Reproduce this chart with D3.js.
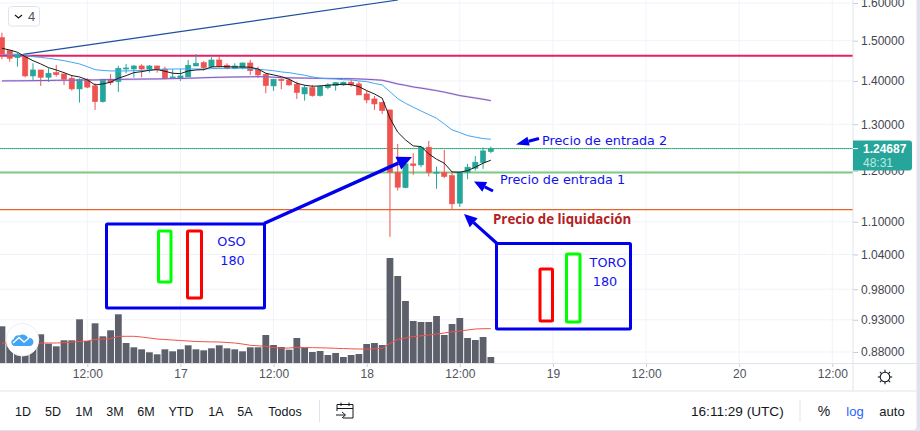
<!DOCTYPE html>
<meta charset="utf-8">
<head>
  <style>
    body { margin: 0; overflow: hidden; background: #fff; }
    svg { display: block; font-family: "Liberation Sans", sans-serif; }
    .note { font-family: "DejaVu Sans", sans-serif; fill: #1212ee; }
    .domain { display: none; }
  </style>
</head>
<body>
  <script src="https://d3js.org/d3.v7.min.js"></script>
  <script>
    // hourly candles, index 11 = 12:00 of the 16th
    const opens = [1.5078,1.4745,1.4570,1.4595,1.4121,1.4266,1.4089,1.4201,1.4169,1.4065,1.3810,1.4041,1.3881,1.3513,1.4041,1.3984,
      1.4290,1.4290,1.4364,1.4290,1.4364,1.4290,1.4072,1.4065,1.4097,1.4364,1.4446,1.4347,1.4512,1.4382,1.4298,1.4323,
      1.4438,1.4283,1.4162,1.3881,1.4041,1.4024,1.3922,1.3692,1.3841,1.3653,1.3841,1.3888,1.3905,1.3969,1.3929,1.3692,
      1.3575,1.3490,1.3322,1.1974,1.1662,1.2146,1.2125,1.2498,1.1954,1.1966,1.1903,1.1355,1.1974,1.2056,1.2173,1.2404];
    const highs = [1.5207,1.4763,1.4695,1.4638,1.4431,1.4266,1.4308,1.4389,1.4169,1.4145,1.4065,1.4065,1.3945,1.4048,1.4169,1.4372,
      1.4414,1.4389,1.4406,1.4389,1.4372,1.4347,1.4290,1.4290,1.4512,1.4663,1.4487,1.4580,1.4612,1.4431,1.4431,1.4446,
      1.4512,1.4347,1.4186,1.4041,1.4065,1.4065,1.3984,1.3905,1.3905,1.3905,1.3945,1.3969,1.3984,1.4041,1.3984,1.3770,
      1.3646,1.3513,1.3322,1.2569,1.2194,1.2370,1.2511,1.2634,1.2090,1.2440,1.1974,1.1986,1.2146,1.2313,1.2492,1.2513];
    const lows = [1.4530,1.4470,1.4347,1.4089,1.4024,1.3881,1.3976,1.4104,1.3905,1.3770,1.3490,1.3829,1.3322,1.3490,1.3905,1.3739,
      1.4186,1.4080,1.4089,1.4201,1.4201,1.4041,1.4065,1.4000,1.4089,1.4364,1.4249,1.4308,1.4323,1.4283,1.4283,1.4283,
      1.4145,1.4065,1.3708,1.3763,1.3802,1.3888,1.3575,1.3536,1.3629,1.3629,1.3802,1.3770,1.3881,1.3860,1.3669,1.3476,
      1.3322,1.3232,1.0719,1.1602,1.1650,1.1919,1.2077,1.1888,1.1637,1.1856,1.1239,1.1283,1.1831,1.2007,1.2042,1.2370];
    const closes = [1.4655,1.4555,1.4655,1.4121,1.4266,1.4089,1.4186,1.4152,1.4041,1.3810,1.4041,1.3853,1.3513,1.4041,1.3960,1.4308,
      1.4315,1.4364,1.4290,1.4364,1.4290,1.4065,1.4097,1.4121,1.4382,1.4431,1.4323,1.4512,1.4364,1.4298,1.4364,1.4438,
      1.4249,1.4145,1.3888,1.4041,1.4007,1.3905,1.3723,1.3841,1.3653,1.3865,1.3905,1.3960,1.3969,1.3905,1.3669,1.3552,
      1.3460,1.3306,1.1974,1.1670,1.2146,1.2111,1.2498,1.1974,1.1974,1.1888,1.1342,1.1974,1.2077,1.2181,1.2419,1.24687];
    const volumes = [36.7,23,21,23,21,28.7,19.3,16.7,22.7,22.7,43.7,22,39.7,26.7,32.7,48.7,
      20,15.7,13.7,10.7,8.7,13.7,11.7,13.7,17.7,13.7,12.7,14.7,17.7,14.7,13.7,11.7,
      15.7,15.7,28,18,16,13.3,25,15,11,12,8,10,6,8,9,19,
      20,18,105,87,62,42,41,41,47,28,39,45,25,23,26,6];
    const volumeMa = [20,20,20,20,20,20,20,20,20.3,21,21.5,22,23.5,24,24.3,26.7,
      26.7,26.7,26,25,24,23.5,23,22.5,22,21.5,21.3,21.1,21,20.5,20,19,
      17.7,17.2,16.7,15.5,14.7,15,15.7,15.5,15.3,15.2,15,14.7,14.4,14.2,14,14,
      14.2,14.7,19.7,23.7,25,26.3,27.2,28,29,30,31.3,32,33,34,34.3,34.3];
    const maFast = [1.4806,1.4763,1.4705,1.4595,1.4495,1.4414,1.4323,1.4266,1.4201,1.4128,1.4097,1.4024,1.3905,1.3929,1.3969,1.4065,
      1.4128,1.4201,1.4225,1.4259,1.4274,1.4235,1.4186,1.4176,1.4242,1.4266,1.4274,1.4340,1.4347,1.4347,1.4340,1.4340,
      1.4332,1.4290,1.4186,1.4145,1.4104,1.4041,1.3945,1.3898,1.3874,1.3881,1.3898,1.3912,1.3922,1.3912,1.3865,1.3770,
      1.3692,1.3592,1.3134,1.2824,1.2655,1.2526,1.2511,1.2356,1.2244,1.2160,1.1980,1.1974,1.2007,1.2077,1.2160,1.2223];
    const maMid = [1.4655,1.4655,1.4655,1.4638,1.4595,1.4575,1.4555,1.4525,1.4495,1.4455,1.4414,1.4347,1.4274,1.4254,1.4242,1.4242,
      1.4242,1.4249,1.4254,1.4266,1.4278,1.4283,1.4290,1.4290,1.4290,1.4290,1.4290,1.4298,1.4303,1.4308,1.4308,1.4308,
      1.4303,1.4283,1.4266,1.4249,1.4218,1.4201,1.4169,1.4138,1.4097,1.4065,1.4055,1.4048,1.4031,1.4024,1.4000,1.3984,
      1.3941,1.3905,1.3746,1.3582,1.3476,1.3384,1.3299,1.3216,1.3134,1.3007,1.2874,1.2815,1.2749,1.2715,1.2684,1.2670];
    const maSlow = [1.4000,1.4002,1.4003,1.4005,1.4007,1.4010,1.4012,1.4015,1.4017,1.4019,1.4021,1.4022,1.4024,1.4028,1.4032,1.4036,
      1.4041,1.4043,1.4045,1.4047,1.4048,1.4052,1.4056,1.4060,1.4065,1.4071,1.4077,1.4083,1.4089,1.4092,1.4095,1.4098,
      1.4100,1.4104,1.4100,1.4090,1.4080,1.4076,1.4072,1.4068,1.4065,1.4063,1.4060,1.4058,1.4056,1.4055,1.4048,1.4040,
      1.4030,1.4017,1.3975,1.3929,1.3895,1.3857,1.3830,1.3800,1.3770,1.3735,1.3695,1.3653,1.3625,1.3597,1.3568,1.3536];

    const priceTicks = [1.6, 1.5, 1.4, 1.3, 1.2, 1.1, 1.04, 0.98, 0.93, 0.88];
    const hourTicks = [11, 23, 35, 47, 59, 71, 83, 95, 107];
    const hourLabels = ["12:00", "17", "12:00", "18", "12:00", "19", "12:00", "20", "12:00"];
    const levels = [
      { price: 1.4620, color: "#e91e63", w: 2 },
      { price: 1.1966, color: "#81c784", w: 2 },
      { price: 1.1230, color: "#e8622a", w: 1.3 }
    ];
    const lastPrice = 1.24687;
    const ranges = ["1D", "5D", "1M", "3M", "6M", "YTD", "1A", "5A", "Todos"];

    const width = 920, height = 431;
    const plotRight = 853, plotBottom = 363;

    const x = d3.scaleLinear().domain([11, 107]).range([87.3, 832.3]);
    const y = d3.scaleLog().domain([0.88, 1.6]).range([352, 3]);
    const yVol = d3.scaleLinear().domain([0, 105]).range([plotBottom, 258]);

    const svg = d3.select("body").append("svg").attr("width", width).attr("height", height);

    svg.append("rect").attr("width", width).attr("height", height).attr("fill", "#e0e3eb");
    svg.append("rect").attr("x", -8).attr("y", -8).attr("width", 924.5).attr("height", 438)
      .attr("rx", 4).attr("fill", "#fff");

    // grid
    const grid = svg.append("g").attr("stroke", "#f0f3fa").attr("stroke-width", 1);
    grid.selectAll("line.h").data(priceTicks).join("line").attr("class", "h")
      .attr("x1", 0).attr("x2", plotRight).attr("y1", d => y(d)).attr("y2", d => y(d));
    grid.selectAll("line.v").data(hourTicks).join("line").attr("class", "v")
      .attr("x1", d => x(d)).attr("x2", d => x(d)).attr("y1", 0).attr("y2", plotBottom);

    // volume
    const idx = d3.range(opens.length);
    svg.append("g").selectAll("rect").data(idx).join("rect")
      .attr("x", i => x(i) - 3.4).attr("width", 6.8)
      .attr("y", i => yVol(volumes[i]))
      .attr("height", i => plotBottom - yVol(volumes[i]))
      .attr("fill", "#5d606b");
    svg.append("path").datum(idx)
      .attr("d", d3.line().x(i => x(i)).y(i => yVol(volumeMa[i])))
      .attr("fill", "none").attr("stroke", "#f0534a").attr("stroke-width", 1);

    // levels, drawn under the candles
    svg.append("g").selectAll("line").data(levels).join("line")
      .attr("x1", 0).attr("x2", plotRight)
      .attr("y1", d => y(d.price)).attr("y2", d => y(d.price))
      .attr("stroke", d => d.color).attr("stroke-width", d => d.w);
    svg.append("line").attr("x1", 0).attr("x2", plotRight)
      .attr("y1", y(lastPrice)).attr("y2", y(lastPrice))
      .attr("stroke", "#66bb6a").attr("stroke-width", 1);
    svg.append("line").attr("x1", 0).attr("x2", plotRight)
      .attr("y1", y(lastPrice)).attr("y2", y(lastPrice))
      .attr("stroke", "#26a69a").attr("stroke-width", 1).attr("stroke-dasharray", "1 1");

    // trend line
    svg.append("line").attr("x1", 23).attr("y1", 54.3).attr("x2", 398).attr("y2", 0)
      .attr("stroke", "#1f4f9f").attr("stroke-width", 1.2);

    // candles
    const candle = svg.append("g").selectAll("g").data(idx).join("g")
      .attr("fill", i => closes[i] >= opens[i] ? "#26a69a" : "#ef5350")
      .attr("stroke", i => closes[i] >= opens[i] ? "#26a69a" : "#ef5350");
    candle.append("line")
      .attr("x1", i => x(i)).attr("x2", i => x(i))
      .attr("y1", i => y(highs[i])).attr("y2", i => y(lows[i]))
      .attr("stroke-width", 1);
    candle.append("rect")
      .attr("x", i => x(i) - 2.6).attr("width", 5.2)
      .attr("y", i => y(Math.max(opens[i], closes[i])))
      .attr("height", i => Math.max(0.6, Math.abs(y(opens[i]) - y(closes[i]))))
      .attr("stroke-width", 0.6);

    // moving averages
    const maLine = d3.line().x(i => x(i));
    [[maSlow, "#7e57c2", 1, true], [maMid, "#42a5f5", 1, false], [maFast, "#1b1b1b", 1, false]].forEach(([s, c, w, halo]) => {
      if (halo) {
        svg.append("path").datum(idx).attr("d", maLine.y(i => y(s[i])))
          .attr("fill", "none").attr("stroke", "#b39ddb").attr("stroke-width", 2).attr("opacity", 0.45);
      }
      svg.append("path").datum(idx).attr("d", maLine.y(i => y(s[i])))
        .attr("fill", "none").attr("stroke", c).attr("stroke-width", w);
    });

    // axes
    const yAxis = svg.append("g").attr("transform", `translate(${plotRight},0)`)
      .call(d3.axisRight(y).tickValues(priceTicks).tickFormat(d3.format(".5f")).tickSize(5).tickPadding(3));
    yAxis.selectAll("text").attr("font-size", 12).attr("fill", "#434651").attr("font-family", "Liberation Sans");
    yAxis.selectAll("line").attr("stroke", "#c8ccd6");
    const xAxis = svg.append("g").attr("transform", `translate(0,${plotBottom})`)
      .call(d3.axisBottom(x).tickValues(hourTicks).tickFormat((d, i) => hourLabels[i]).tickSize(4).tickPadding(2));
    xAxis.selectAll("text").attr("font-size", 12).attr("fill", "#50535e").attr("font-family", "Liberation Sans");
    xAxis.selectAll("line").attr("stroke", "#c8ccd6");

    const frame = svg.append("g").attr("stroke", "#e0e3eb").attr("stroke-width", 1);
    frame.append("line").attr("x1", plotRight).attr("x2", plotRight).attr("y1", 0).attr("y2", 391);
    frame.append("line").attr("x1", 0).attr("x2", 917).attr("y1", plotBottom + .5).attr("y2", plotBottom + .5);
    frame.append("line").attr("x1", 0).attr("x2", 917).attr("y1", 391).attr("y2", 391);
    frame.append("line").attr("x1", 800).attr("x2", 800).attr("y1", 400).attr("y2", 422);
    frame.append("line").attr("x1", 319.5).attr("x2", 319.5).attr("y1", 400).attr("y2", 422);

    // last price tag
    const tagY = y(lastPrice);
    svg.append("path")
      .attr("d", `M853,${tagY - 8}H909a3,3 0 0 1 3,3V${tagY + 19}a3,3 0 0 1 -3,3H853Z`)
      .attr("fill", "#26a69a");
    svg.append("text").attr("x", 863).attr("y", tagY + 4.5).attr("font-size", 12).attr("font-weight", "bold")
      .attr("fill", "#fff").text(d3.format(".5f")(lastPrice));
    svg.append("text").attr("x", 863).attr("y", tagY + 18).attr("font-size", 12)
      .attr("fill", "#bfe6e1").text("48:31");
    svg.append("line").attr("x1", 853).attr("x2", 858).attr("y1", tagY).attr("y2", tagY).attr("stroke", "#fff");

    // indicators button
    svg.append("rect").attr("x", 8.5).attr("y", 6.5).attr("width", 31).attr("height", 19.5).attr("rx", 3)
      .attr("fill", "#fff").attr("stroke", "#e0e3eb");
    svg.append("path").attr("d", "M15,15 l3.5,3 l3.5,-3").attr("fill", "none").attr("stroke", "#131722").attr("stroke-width", 1.2);
    svg.append("text").attr("x", 28).attr("y", 21).attr("font-size", 13).attr("fill", "#50535e").text("4");

    // logo
    svg.append("circle").attr("cx", 22.5).attr("cy", 339.7).attr("r", 16.3).attr("fill", "#fff").attr("stroke", "#eceef2");
    svg.append("path")
      .attr("d", "M15,346 a3.6,3.6 0 0 1 -1.2,-7 a4.5,4.5 0 0 1 5.5,-3.6 a6,6 0 0 1 8.7,2.6 a4,4 0 0 1 2.5,8 Z")
      .attr("fill", "#42a5f5");
    svg.append("path").attr("d", "M13,343 L19,337.5 L24,342 L29,338").attr("fill", "none").attr("stroke", "#fff").attr("stroke-width", 1.5);

    // gear
    const gear = svg.append("g").attr("transform", "translate(885,377)").attr("stroke", "#131722").attr("fill", "none").attr("stroke-width", 1.1);
    gear.append("circle").attr("r", 4.8);
    d3.range(8).forEach(k => {
      const a = k * Math.PI / 4;
      gear.append("line").attr("x1", 4.8 * Math.cos(a)).attr("y1", 4.8 * Math.sin(a))
        .attr("x2", 7.2 * Math.cos(a)).attr("y2", 7.2 * Math.sin(a));
    });

    // bottom toolbar
    const rangeX = [23, 53, 84, 115, 146, 181, 216, 245, 285];
    svg.append("g").selectAll("text").data(ranges).join("text")
      .attr("x", (d, i) => rangeX[i]).attr("y", 415.5).attr("text-anchor", "middle")
      .attr("font-size", 12.5).attr("fill", "#131722").text(d => d);
    svg.append("text").attr("x", 691).attr("y", 415.5).attr("font-size", 13.6).attr("fill", "#131722").text("16:11:29 (UTC)");
    svg.append("text").attr("x", 824).attr("y", 416).attr("text-anchor", "middle").attr("font-size", 14).attr("fill", "#131722").text("%");
    svg.append("text").attr("x", 855).attr("y", 416).attr("text-anchor", "middle").attr("font-size", 13).attr("fill", "#2962ff").text("log");
    svg.append("text").attr("x", 892).attr("y", 416).attr("text-anchor", "middle").attr("font-size", 13).attr("fill", "#131722").text("auto");
    const cal = svg.append("g").attr("fill", "none").attr("stroke", "#131722").attr("stroke-width", 1);
    cal.append("path").attr("d", "M337,411 V404.5 H353 V418 H343 M337,408.5 H353 M341,402.5 V406 M349,402.5 V406");
    cal.append("path").attr("d", "M336,415 H345 M342,412 L345.5,415 L342,418");

    // pasted-in notes over the chart
    const arrow = (x1, y1, x2, y2, w, headLen, headW) => {
      const a = Math.atan2(y2 - y1, x2 - x1);
      const bx = x2 - headLen * Math.cos(a), by = y2 - headLen * Math.sin(a);
      const nx = -Math.sin(a) * headW, ny = Math.cos(a) * headW;
      svg.append("line").attr("x1", x1).attr("y1", y1).attr("x2", bx).attr("y2", by)
        .attr("stroke", "#0000ee").attr("stroke-width", w);
      svg.append("path").attr("d", `M${x2},${y2}L${bx + nx},${by + ny}L${bx - nx},${by - ny}Z`).attr("fill", "#0000ee");
    };
    const box = (x0, y0, x1, y1, color) => svg.append("rect")
      .attr("x", x0).attr("y", y0).attr("width", x1 - x0).attr("height", y1 - y0)
      .attr("rx", 1).attr("fill", "none").attr("stroke", color).attr("stroke-width", 3);

    arrow(264, 223.5, 412, 157, 3.4, 15, 7);
    arrow(497, 243.5, 464, 214, 3.2, 13, 6);
    arrow(539, 138.5, 516, 144.5, 3, 13, 4.5);
    arrow(493, 191, 474, 181.5, 3, 12, 5.5);

    box(106.5, 224, 264.5, 308, "#0000ee");
    box(158.5, 231, 171, 282, "#00ff00");
    box(187.5, 231, 201.5, 298, "#ff0000");
    box(496.5, 243.5, 630.5, 329, "#0000ee");
    box(540, 269, 552.5, 321, "#ff0000");
    box(566.5, 254, 580, 322, "#00ff00");

    const note = (txt, px, py, anchor, size) => svg.append("text").attr("class", "note")
      .attr("x", px).attr("y", py).attr("text-anchor", anchor || "start").attr("font-size", size || 12.8).text(txt);
    note("OSO", 231.5, 245.5, "middle");
    note("180", 232.5, 265, "middle");
    note("TORO", 608, 266.5, "middle");
    note("180", 605, 286, "middle");
    note("Precio de entrada 2", 542, 145);
    note("Precio de entrada 1", 500, 184);
    svg.append("text").attr("x", 493).attr("y", 223.5).attr("font-family", "Open Sans").attr("font-weight", "bold")
      .attr("font-size", 13.3).attr("fill", "#b22222").text("Precio de liquidación");
  </script>
</body>
